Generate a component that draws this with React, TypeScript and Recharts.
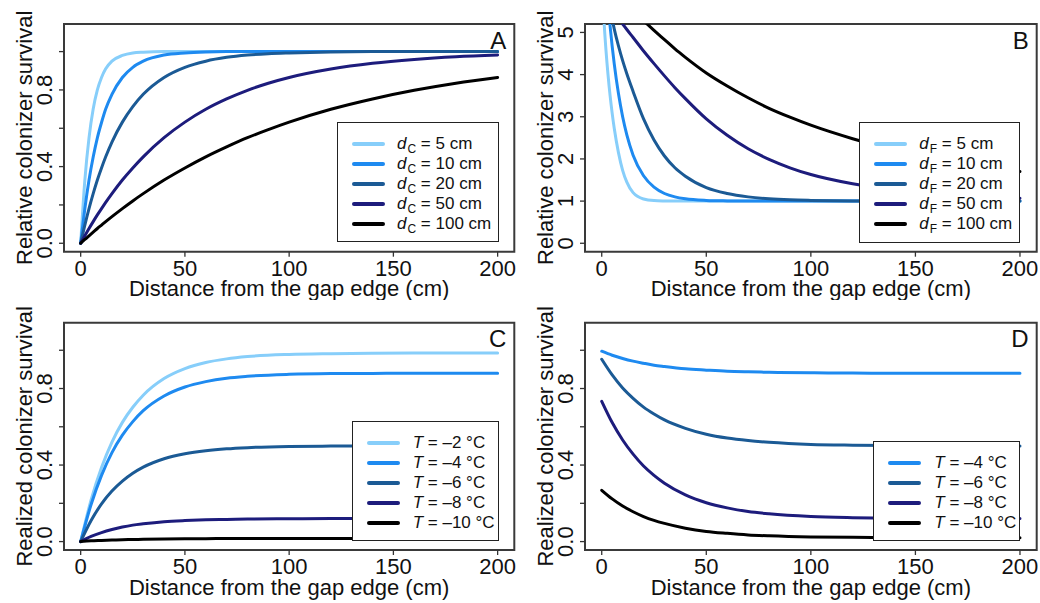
import React from "react";
import { Legend, Line, LineChart, ReferenceArea, XAxis, YAxis } from "recharts";

const FONT = '"Liberation Sans", Arial, Helvetica, sans-serif';
const COLORS = ["#87CEFA", "#1E8AF0", "#1B5A95", "#1D1C7C", "#000000"];

// Panel A: relative colonizer survival vs distance, by d_C
const distA = [0, 2, 4, 6, 8, 10, 12, 15, 20, 25, 30, 40, 50, 60, 70, 80, 90, 100, 120, 140, 160, 180, 200];
const survA5 = [0, 0.33, 0.55, 0.7, 0.8, 0.865, 0.91, 0.95, 0.98, 0.993, 0.997, 1, 1, 1, 1, 1, 1, 1, 1, 1, 1, 1, 1];
const survA10 = [0, 0.18, 0.33, 0.45, 0.55, 0.63, 0.7, 0.777, 0.865, 0.918, 0.95, 0.982, 0.993, 0.998, 1, 1, 1, 1, 1, 1, 1, 1, 1];
const survA20 = [0, 0.095, 0.181, 0.259, 0.33, 0.393, 0.451, 0.528, 0.632, 0.713, 0.777, 0.865, 0.918, 0.95, 0.97, 0.982, 0.989, 0.993, 0.998, 1, 1, 1, 1];
const survA50 = [0, 0.039, 0.077, 0.113, 0.148, 0.181, 0.213, 0.259, 0.33, 0.393, 0.451, 0.551, 0.632, 0.699, 0.753, 0.798, 0.835, 0.865, 0.909, 0.939, 0.959, 0.973, 0.982];
const survA100 = [0, 0.02, 0.039, 0.058, 0.077, 0.095, 0.113, 0.139, 0.181, 0.221, 0.259, 0.33, 0.393, 0.451, 0.503, 0.551, 0.593, 0.632, 0.699, 0.753, 0.798, 0.835, 0.865];
const labelsA = ["5 cm", "10 cm", "20 cm", "50 cm", "100 cm"];

// Panel B: relative survival by d_F
const distB = [0, 1, 2, 3, 4, 5, 6, 8, 10, 12, 15, 20, 25, 30, 35, 40, 50, 60, 70, 80, 90, 100, 120, 140, 160, 180, 200];
const survB5 = [6.4, 5.35, 4.6, 4.0, 3.5, 3.08, 2.72, 2.15, 1.73, 1.45, 1.2, 1.05, 1.012, 1.003, 1, 1, 1, 1, 1, 1, 1, 1, 1, 1, 1, 1, 1];
const survB10 = [7.6, 6.9, 6.3, 5.7, 5.15, 4.67, 4.25, 3.55, 3.0, 2.57, 2.09, 1.6, 1.33, 1.18, 1.1, 1.055, 1.017, 1.005, 1, 1, 1, 1, 1, 1, 1, 1, 1];
const survB20 = [6.7, 6.41, 6.12, 5.83, 5.56, 5.31, 5.08, 4.68, 4.33, 4.02, 3.6, 2.95, 2.45, 2.07, 1.79, 1.59, 1.32, 1.18, 1.1, 1.055, 1.03, 1.017, 1.005, 1, 1, 1, 1];
const survB50 = [5.88, 5.81, 5.74, 5.67, 5.6, 5.53, 5.46, 5.33, 5.2, 5.07, 4.88, 4.56, 4.26, 3.97, 3.69, 3.43, 2.95, 2.56, 2.24, 1.99, 1.79, 1.63, 1.41, 1.26, 1.17, 1.11, 1.07];
const survB100 = [6.3, 6.25, 6.2, 6.14, 6.09, 6.04, 5.99, 5.88, 5.78, 5.68, 5.53, 5.28, 5.05, 4.83, 4.61, 4.41, 4.04, 3.73, 3.45, 3.2, 2.99, 2.8, 2.48, 2.22, 2.01, 1.845, 1.7];
const labelsB = labelsA;

// Panel C: realized survival (increasing) by temperature
const distC = [0, 5, 10, 15, 20, 25, 30, 40, 50, 60, 70, 80, 100, 120, 140, 160, 180, 200];
const survCm2 = [0, 0.218, 0.387, 0.52, 0.623, 0.702, 0.765, 0.852, 0.904, 0.936, 0.955, 0.967, 0.978, 0.982, 0.984, 0.985, 0.985, 0.985];
const survCm4 = [0, 0.194, 0.346, 0.465, 0.556, 0.627, 0.684, 0.761, 0.808, 0.836, 0.854, 0.864, 0.874, 0.878, 0.879, 0.88, 0.88, 0.88];
const survCm6 = [0, 0.11, 0.197, 0.264, 0.316, 0.357, 0.389, 0.433, 0.459, 0.475, 0.485, 0.491, 0.497, 0.499, 0.5, 0.5, 0.5, 0.5];
const survCm8 = [0, 0.027, 0.047, 0.063, 0.076, 0.086, 0.093, 0.104, 0.11, 0.114, 0.116, 0.118, 0.119, 0.12, 0.12, 0.12, 0.12, 0.12];
const survCm10 = [0, 0.004, 0.006, 0.008, 0.01, 0.011, 0.012, 0.014, 0.015, 0.015, 0.016, 0.016, 0.016, 0.016, 0.016, 0.016, 0.016, 0.016];
const labelsC = ["\u20132 \u00b0C", "\u20134 \u00b0C", "\u20136 \u00b0C", "\u20138 \u00b0C", "\u201310 \u00b0C"];

// Panel D: realized survival (decreasing) by temperature
const distD = distC;
const survDm4 = [0.995, 0.974, 0.957, 0.943, 0.932, 0.922, 0.915, 0.903, 0.896, 0.89, 0.887, 0.885, 0.882, 0.881, 0.88, 0.88, 0.88, 0.88];
const survDm6 = [0.953, 0.871, 0.803, 0.749, 0.703, 0.667, 0.636, 0.592, 0.561, 0.541, 0.528, 0.519, 0.508, 0.504, 0.502, 0.501, 0.5, 0.5];
const survDm8 = [0.733, 0.622, 0.531, 0.457, 0.395, 0.346, 0.305, 0.244, 0.203, 0.176, 0.157, 0.145, 0.131, 0.125, 0.122, 0.121, 0.12, 0.12];
const survDm10 = [0.268, 0.223, 0.186, 0.156, 0.131, 0.111, 0.095, 0.07, 0.053, 0.043, 0.035, 0.03, 0.024, 0.022, 0.021, 0.02, 0.02, 0.02];
const labelsD = labelsC.slice(1);

const xTicks = [0, 50, 100, 150, 200];
const survTicks = [0, 0.2, 0.4, 0.6, 0.8, 1.0];
const survLabels = [0, 0.4, 0.8];
const relTicks = [0, 1, 2, 3, 4, 5];

const toRows = (xs: number[], cols: number[][]) =>
  xs.map((x, i) => {
    const row: Record<string, number> = { x };
    cols.forEach((c, j) => (row[`s${j}`] = c[i]));
    return row;
  });

type LegendItem = { color: string; label: React.ReactNode };

function LegendBox({ items, w, h, sampleLeft, textLeft, firstRow }: {
  items: LegendItem[]; w: number; h: number; sampleLeft: number; textLeft: number; firstRow: number;
}) {
  return (
    <div
      style={{
        position: "relative", width: w, height: h, boxSizing: "border-box",
        border: "1.3px solid #222", background: "#fff",
        fontFamily: FONT, fontSize: 17, color: "#111",
      }}
    >
      {items.map((it, i) => (
        <div key={i} style={{ position: "absolute", left: 0, right: 0, top: firstRow + i * 20 - 10, height: 20 }}>
          <span
            style={{
              position: "absolute", left: sampleLeft, top: 8, width: 33, height: 4,
              borderRadius: 2, background: it.color,
            }}
          />
          <span style={{ position: "absolute", left: textLeft, top: 0, lineHeight: "20px", whiteSpace: "nowrap" }}>
            {it.label}
          </span>
        </div>
      ))}
    </div>
  );
}

const distLabel = (sub: string, v: string) => (
  <>
    <i>d</i>
    <span style={{ fontSize: 12, position: "relative", top: 4, marginLeft: 1 }}>{sub}</span> = {v}
  </>
);
const tempLabel = (v: string) => (
  <>
    <i>T</i> = {v}
  </>
);

interface PanelProps {
  left: number;
  top: number;
  width: number;
  height: number;
  margin: { top: number; right: number; bottom: number; left: number };
  xs: number[];
  cols: number[][];
  colors: string[];
  letter: string;
  yDomain: [number, number];
  yTicks: number[];
  yLabels: number[];
  yFmt: (v: number) => string;
  yTitle: string;
  legend: { left: number; top: number; w: number; h: number; sampleLeft: number; textLeft: number; firstRow: number; items: LegendItem[] };
}

const XTick = (props: any) => {
  const { x, y, payload } = props;
  return (
    <text x={x} y={y + 19} textAnchor="middle" fontFamily={FONT} fontSize={22} fill="#111">
      {payload.value}
    </text>
  );
};

function Panel(p: PanelProps) {
  const data = toRows(p.xs, p.cols);
  const YTick = (props: any) => {
    const { x, y, payload } = props;
    const show = p.yLabels.some((v) => Math.abs(v - payload.value) < 1e-9);
    if (!show) return <g />;
    return (
      <text
        transform={`translate(${x - 7},${y}) rotate(-90)`}
        textAnchor="middle" fontFamily={FONT} fontSize={22} fill="#111"
      >
        {p.yFmt(payload.value)}
      </text>
    );
  };
  const lg = p.legend;
  return (
    <div style={{ position: "absolute", left: p.left, top: p.top }}>
      <LineChart width={p.width} height={p.height} data={data} margin={p.margin}>
        <XAxis
          dataKey="x" type="number" domain={[-8, 208]} ticks={xTicks} allowDataOverflow
          axisLine={false} tickSize={5} tickMargin={0} interval={0} height={30}
          tickLine={{ stroke: "#333", strokeWidth: 1.3 }} tick={<XTick />}
          label={(lp: any) => {
            const vb = lp.viewBox;
            return (
              <text x={vb.x + vb.width / 2} y={vb.y + 44.5} textAnchor="middle" fontFamily={FONT} fontSize={22} fill="#111">
                Distance from the gap edge (cm)
              </text>
            );
          }}
        />
        <YAxis
          type="number" domain={p.yDomain} ticks={p.yTicks} allowDataOverflow
          axisLine={false} tickSize={5} tickMargin={0} interval={0} width={40}
          tickLine={{ stroke: "#333", strokeWidth: 1.3 }} tick={<YTick />}
          label={(lp: any) => {
            const vb = lp.viewBox;
            const bx = vb.x + vb.width - 32;
            const cy = vb.y + vb.height / 2;
            return (
              <text transform={`translate(${bx},${cy}) rotate(-90)`} textAnchor="middle" fontFamily={FONT} fontSize={22} fill="#111">
                {p.yTitle}
              </text>
            );
          }}
        />
        {p.cols.map((_, j) => (
          <Line
            key={j} type="monotone" dataKey={`s${j}`} stroke={p.colors[j]} strokeWidth={3}
            strokeLinecap="round" dot={false} activeDot={false} isAnimationActive={false}
          />
        ))}
        <ReferenceArea
          x1={-8} x2={208} y1={p.yDomain[0]} y2={p.yDomain[1]}
          fill="none" fillOpacity={0} stroke="#3a3a3a" strokeWidth={2} ifOverflow="visible"
          label={(lp: any) => {
            const vb = lp.viewBox;
            return (
              <text x={vb.x + vb.width - 8} y={vb.y + 24.5} textAnchor="end" fontFamily={FONT} fontSize={24} fill="#111">
                {p.letter}
              </text>
            );
          }}
        />
        <Legend
          layout="vertical" align="center" verticalAlign="middle"
          wrapperStyle={{ left: lg.left, top: lg.top, width: lg.w, height: lg.h }}
          content={() => (
            <LegendBox items={lg.items} w={lg.w} h={lg.h} sampleLeft={lg.sampleLeft} textLeft={lg.textLeft} firstRow={lg.firstRow} />
          )}
        />
      </LineChart>
    </div>
  );
}

const survDomain: [number, number] = [-0.044, 1.144];
const relDomain: [number, number] = [-0.2, 5.2];
const fmt1 = (v: number) => v.toFixed(1);
const fmt0 = (v: number) => v.toFixed(0);

export default function App() {
  return (
    <div style={{ position: "absolute", left: 0, top: 0, width: 1040, height: 603, background: "#fff", overflow: "hidden" }}>
      <Panel
        left={0} top={0} width={520} height={300}
        margin={{ top: 24, right: 5.7, bottom: 18.3, left: 24 }}
        xs={distA} cols={[survA5, survA10, survA20, survA50, survA100]} colors={COLORS}
        letter="A" yDomain={survDomain} yTicks={survTicks} yLabels={survLabels} yFmt={fmt1}
        yTitle="Relative colonizer survival"
        legend={{
          left: 337, top: 122, w: 162, h: 120, sampleLeft: 14, textLeft: 59, firstRow: 21,
          items: labelsA.map((l, i) => ({ color: COLORS[i], label: distLabel("C", l) })),
        }}
      />
      <Panel
        left={520} top={0} width={520} height={300}
        margin={{ top: 24, right: 3.3, bottom: 18.3, left: 25 }}
        xs={distB} cols={[survB5, survB10, survB20, survB50, survB100]} colors={COLORS}
        letter="B" yDomain={relDomain} yTicks={relTicks} yLabels={relTicks} yFmt={fmt0}
        yTitle="Relative colonizer survival"
        legend={{
          left: 339.3, top: 121.7, w: 161, h: 121, sampleLeft: 14, textLeft: 59, firstRow: 21,
          items: labelsB.map((l, i) => ({ color: COLORS[i], label: distLabel("F", l) })),
        }}
      />
      <Panel
        left={0} top={300} width={520} height={303}
        margin={{ top: 22.7, right: 5.7, bottom: 23, left: 24 }}
        xs={distC} cols={[survCm2, survCm4, survCm6, survCm8, survCm10]} colors={COLORS}
        letter="C" yDomain={survDomain} yTicks={survTicks} yLabels={survLabels} yFmt={fmt1}
        yTitle="Realized colonizer survival"
        legend={{
          left: 351.7, top: 121, w: 147.5, h: 120, sampleLeft: 14, textLeft: 60, firstRow: 20.7,
          items: labelsC.map((l, i) => ({ color: COLORS[i], label: tempLabel(l) })),
        }}
      />
      <Panel
        left={520} top={300} width={520} height={303}
        margin={{ top: 22.7, right: 3.3, bottom: 23, left: 25 }}
        xs={distD} cols={[survDm4, survDm6, survDm8, survDm10]} colors={COLORS.slice(1)}
        letter="D" yDomain={survDomain} yTicks={survTicks} yLabels={survLabels} yFmt={fmt1}
        yTitle="Realized colonizer survival"
        legend={{
          left: 353.3, top: 140.7, w: 147, h: 100, sampleLeft: 14, textLeft: 60, firstRow: 21,
          items: labelsD.map((l, i) => ({ color: COLORS[i + 1], label: tempLabel(l) })),
        }}
      />
    </div>
  );
}
